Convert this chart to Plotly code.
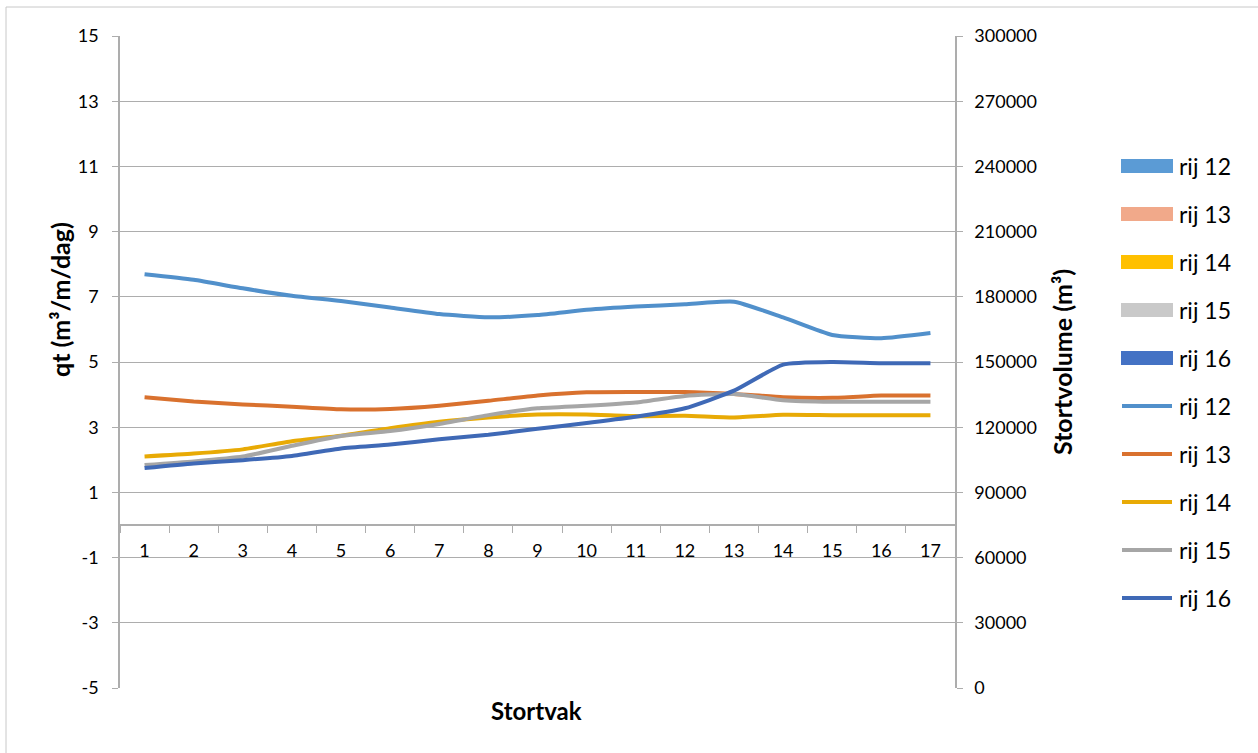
import plotly.graph_objects as go

# Stortvak categories
stortvak = [str(i) for i in range(1, 18)]

# qt (m3/m/dag) per row
qt_rij12 = [7.69, 7.52, 7.26, 7.03, 6.87, 6.67, 6.47, 6.37, 6.44, 6.60, 6.70, 6.77, 6.85, 6.37, 5.83, 5.73, 5.89]
qt_rij13 = [3.92, 3.79, 3.70, 3.63, 3.55, 3.56, 3.66, 3.81, 3.97, 4.07, 4.08, 4.08, 4.02, 3.92, 3.90, 3.97, 3.97]
qt_rij14 = [2.10, 2.19, 2.32, 2.57, 2.74, 2.97, 3.17, 3.30, 3.39, 3.39, 3.34, 3.35, 3.30, 3.38, 3.37, 3.37, 3.37]
qt_rij15 = [1.84, 1.95, 2.10, 2.43, 2.73, 2.88, 3.10, 3.37, 3.58, 3.66, 3.76, 3.96, 4.02, 3.83, 3.78, 3.78, 3.78]
qt_rij16 = [1.75, 1.89, 1.99, 2.12, 2.35, 2.47, 2.63, 2.77, 2.95, 3.13, 3.32, 3.58, 4.12, 4.92, 5.00, 4.96, 4.96]

series_names = ["rij 12", "rij 13", "rij 14", "rij 15", "rij 16"]
bar_colors = ["#5B9BD5", "#F1A98A", "#FFC000", "#C9C9C9", "#4472C4"]
line_colors = ["#5190CB", "#D9712E", "#E8AA05", "#A6A6A6", "#3F69B6"]

qt_ticks = [15, 13, 11, 9, 7, 5, 3, 1, -1, -3, -5]
qt_ticktext = ["15", "13", "11", "9", "7", "5", "3", "1", "-1", "-3", "-5"]
vol_ticks = [0, 30000, 60000, 90000, 120000, 150000, 180000, 210000, 240000, 270000, 300000]
vol_ticktext = ["0", "30000", "60000", "90000", "120000", "150000", "180000",
                "210000", "240000", "270000", "300000"]

FONT = "Lato"
GRID = "#ADADAD"
TICK_SIZE = 18
LEGEND_SIZE = 23
TITLE_SIZE = 25

# plot area in pixels
W, H = 1258, 753
L, R, T, B = 120, 955, 36, 688


def px_x(x):
    return (x - L) / (R - L)


def px_y(y):
    return (B - y) / (B - T)


fig = go.Figure()

for name, color, vals in zip(series_names, line_colors,
                             [qt_rij12, qt_rij13, qt_rij14, qt_rij15, qt_rij16]):
    fig.add_trace(go.Scatter(
        x=stortvak, y=vals, name=name, mode="lines",
        line=dict(color=color, width=4, shape="spline", smoothing=0.5),
        showlegend=False, yaxis="y",
    ))

# invisible carrier for the secondary (Stortvolume) axis
fig.add_trace(go.Scatter(x=stortvak, y=[None] * len(stortvak), yaxis="y2",
                         showlegend=False, hoverinfo="skip"))

shapes = []
annotations = []

# legend: bar swatches, then line swatches
row_y0, row_dy = 166, 48
for i, (name, color) in enumerate(zip(series_names, bar_colors)):
    yc = row_y0 + i * row_dy
    shapes.append(dict(type="rect", xref="paper", yref="paper",
                       x0=px_x(1121), x1=px_x(1173), y0=px_y(yc - 7), y1=px_y(yc + 7),
                       fillcolor=color, line=dict(width=0)))
    annotations.append(dict(xref="paper", yref="paper", x=px_x(1177), y=px_y(yc),
                            text=name, showarrow=False, xanchor="left", yanchor="middle",
                            font=dict(family=FONT, size=LEGEND_SIZE, color="#000000")))
for i, (name, color) in enumerate(zip(series_names, line_colors)):
    yc = row_y0 + (i + 5) * row_dy
    shapes.append(dict(type="line", xref="paper", yref="paper",
                       x0=px_x(1122), x1=px_x(1172), y0=px_y(yc), y1=px_y(yc),
                       line=dict(color=color, width=4)))
    annotations.append(dict(xref="paper", yref="paper", x=px_x(1177), y=px_y(yc),
                            text=name, showarrow=False, xanchor="left", yanchor="middle",
                            font=dict(family=FONT, size=LEGEND_SIZE, color="#000000")))

# axis titles
annotations.append(dict(xref="paper", yref="paper", x=px_x(60), y=px_y(300),
                        text="<b>qt (m³/m/dag)</b>", textangle=-90, showarrow=False,
                        xanchor="center", yanchor="middle",
                        font=dict(family=FONT, size=TITLE_SIZE, color="#000000")))
annotations.append(dict(xref="paper", yref="paper", x=px_x(1062), y=px_y(362),
                        text="<b>Stortvolume (m³)</b>", textangle=-90, showarrow=False,
                        xanchor="center", yanchor="middle",
                        font=dict(family=FONT, size=TITLE_SIZE, color="#000000")))
annotations.append(dict(xref="paper", yref="paper", x=px_x(536), y=px_y(711),
                        text="<b>Stortvak</b>", showarrow=False,
                        xanchor="center", yanchor="middle",
                        font=dict(family=FONT, size=TITLE_SIZE - 1, color="#000000")))

# outer chart border
shapes.append(dict(type="line", xref="paper", yref="paper",
                   x0=px_x(6), x1=px_x(W + 5), y0=px_y(7), y1=px_y(7),
                   line=dict(color="#C8C8C8", width=1)))
shapes.append(dict(type="line", xref="paper", yref="paper",
                   x0=px_x(6), x1=px_x(6), y0=px_y(7), y1=px_y(H + 5),
                   line=dict(color="#C8C8C8", width=1)))

fig.update_layout(
    width=W, height=H,
    margin=dict(l=L, r=W - R, t=T, b=H - B, pad=0),
    paper_bgcolor="white", plot_bgcolor="white",
    font=dict(family=FONT, size=TICK_SIZE, color="#000000"),
    showlegend=False,
    shapes=shapes,
    annotations=annotations,
    xaxis=dict(
        type="category", range=[-0.5, 16.5],
        anchor="free", position=0.25,
        showline=True, linecolor=GRID, linewidth=1.5,
        ticks="outside", ticklen=7, tickcolor=GRID, tickwidth=1,
        tickson="boundaries", showgrid=False,
        ticklabelstandoff=10,
        tickfont=dict(family=FONT, size=TICK_SIZE, color="#000000"),
    ),
    yaxis=dict(
        range=[-5, 15], tickvals=qt_ticks, ticktext=qt_ticktext,
        showgrid=True, gridcolor=GRID, gridwidth=1.2,
        zeroline=False,
        showline=True, linecolor=GRID, linewidth=1.5,
        ticks="outside", ticklen=6, tickcolor=GRID,
        ticklabelstandoff=10,
        tickfont=dict(family=FONT, size=TICK_SIZE, color="#000000"),
    ),
    yaxis2=dict(
        range=[0, 300000], tickvals=vol_ticks, ticktext=vol_ticktext,
        overlaying="y", side="right", anchor="x",
        showgrid=False, zeroline=False,
        showline=True, linecolor=GRID, linewidth=1.5,
        ticks="outside", ticklen=6, tickcolor=GRID,
        ticklabelstandoff=8,
        tickfont=dict(family=FONT, size=TICK_SIZE, color="#000000"),
    ),
)

fig.write_html("out.html")
